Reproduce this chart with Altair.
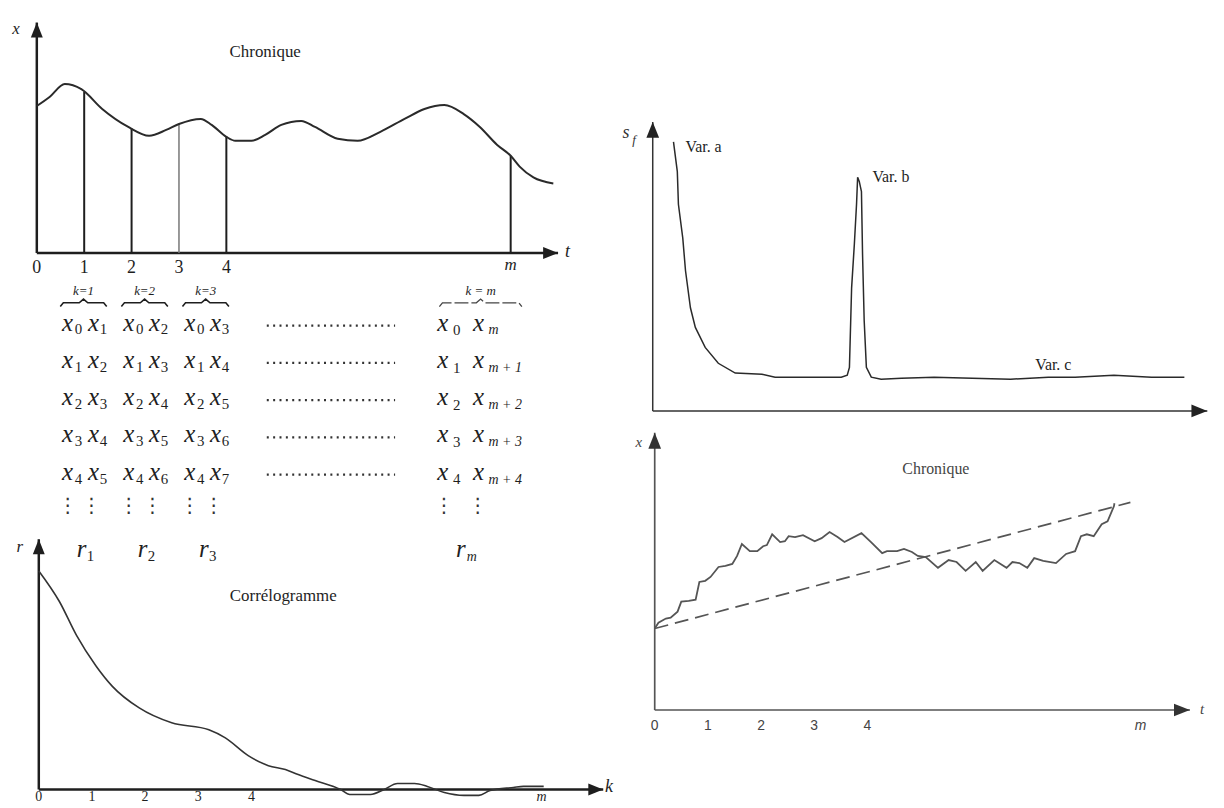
import altair as alt
import pandas as pd

# ---------------- DATA ----------------
# Panel A : "Chronique" (top left)
chron_t = [0, 0.27, 0.59, 0.94, 1.38, 1.93, 2.37, 2.73, 3.0, 3.46, 3.69, 4.0, 4.19, 4.53, 4.82, 5.16,
           5.58, 5.87, 6.35, 6.77, 7.25, 7.76, 8.18, 8.60, 9.01, 9.35, 9.71, 10.0, 10.19, 10.48, 10.90]
chron_x = [6.38, 6.77, 7.33, 7.11, 6.25, 5.47, 5.09, 5.34, 5.60, 5.82, 5.56, 5.04, 4.87, 4.87, 5.13, 5.56,
           5.73, 5.47, 4.96, 4.87, 5.26, 5.82, 6.25, 6.42, 6.03, 5.47, 4.70, 4.22, 3.75, 3.28, 3.02]
lag_t = [1, 2, 4, 10]
lag_x = [7.0, 5.41, 5.04, 4.22]
lag_light_t = [3]
lag_light_x = [5.60]
chron_tick_t = [0, 1, 2, 3, 4]
chron_tick_lab = ["0", "1", "2", "3", "4"]
chron_m_t = 10

# Table of pairs
table_k = ["1", "2", "3", "m"]
table_rows = [0, 1, 2, 3, 4]
brace_lab = ["k=1", "k=2", "k=3", "k = m"]
r_sub = ["1", "2", "3", "m"]

# Panel C : "Corrélogramme"
corr_k = [0, 0.39, 0.71, 1.08, 1.38, 1.89, 2.50, 3.20, 3.51, 3.94, 4.32, 4.64, 4.88, 5.20, 5.68, 5.85,
          6.24, 6.50, 6.75, 7.07, 7.31, 7.63, 8.0, 8.28, 8.49, 8.93, 9.12, 9.50]
corr_r = [1.0, 0.859, 0.705, 0.564, 0.473, 0.373, 0.305, 0.273, 0.236, 0.155, 0.109, 0.091, 0.068, 0.041,
          0.0, -0.023, -0.023, 0.0, 0.027, 0.027, 0.014, -0.014, -0.027, -0.027, -0.005, 0.009, 0.014, 0.014]
corr_tick_k = [0, 1, 2, 3, 4]
corr_tick_lab = ["0", "1", "2", "3", "4"]
corr_m_k = 9.46

# Panel D : spectrum s_f
sf_f = [3.8, 4.5, 4.7, 5.5, 6.0, 6.9, 7.8, 9.6, 12.0, 15.1, 20.0, 22.4, 27.3, 30.9, 34.5, 35.6, 36.0,
        36.4, 36.9, 37.3, 37.5, 37.8, 38.2, 38.4, 38.7, 39.1, 40.0, 41.8, 45.5, 51.5, 65.5, 72.4, 77.3,
        84.4, 91.3, 94.9, 97.3]
sf_s = [93.1, 82.8, 71.5, 59.8, 48.5, 35.7, 28.9, 22.0, 16.5, 13.1, 12.7, 11.7, 11.7, 11.7, 11.7, 12.4,
        15.1, 42.6, 57.7, 71.5, 80.8, 79.4, 75.9, 54.3, 31.3, 15.1, 11.7, 11.0, 11.3, 11.7, 11.0, 11.7,
        11.7, 12.4, 11.7, 11.7, 11.7]
sf_labels = ["Var. a", "Var. b", "Var. c"]
sf_label_f = [6.0, 40.2, 70.0]
sf_label_s = [91.4, 80.8, 15.8]

# Panel E : "Chronique" with trend (bottom right)
ch2_t = [0, 0.07, 0.21, 0.30, 0.43, 0.50, 0.64, 0.77, 0.84, 0.95, 1.05, 1.20, 1.33, 1.46, 1.55, 1.64,
         1.79, 1.93, 2.04, 2.11, 2.21, 2.36, 2.45, 2.52, 2.64, 2.79, 3.01, 3.14, 3.29, 3.44, 3.57, 3.89,
         4.07, 4.28, 4.37, 4.56, 4.69, 4.84, 4.95, 5.10, 5.33, 5.53, 5.68, 5.85, 6.04, 6.17, 6.39, 6.62,
         6.73, 6.86, 7.01, 7.14, 7.31, 7.55, 7.74, 7.91, 8.02, 8.13, 8.26, 8.41, 8.52, 8.64, 8.65]
ch2_x = [2.94, 3.15, 3.30, 3.33, 3.55, 3.91, 3.94, 3.98, 4.62, 4.66, 4.80, 5.16, 5.20, 5.27, 5.56, 5.99,
         5.73, 5.73, 5.91, 5.95, 6.34, 6.06, 6.09, 6.27, 6.24, 6.31, 6.09, 6.20, 6.42, 6.24, 6.06, 6.38,
         6.06, 5.66, 5.73, 5.73, 5.81, 5.70, 5.56, 5.52, 5.13, 5.41, 5.34, 5.02, 5.34, 5.02, 5.41, 5.13,
         5.34, 5.30, 5.13, 5.48, 5.38, 5.30, 5.63, 5.73, 6.27, 6.34, 6.27, 6.70, 6.81, 7.35, 7.46]
trend_t = [0, 8.95]
trend_x = [2.94, 7.49]
ch2_tick_t = [0, 1, 2, 3, 4]
ch2_tick_lab = ["0", "1", "2", "3", "4"]
ch2_m_t = 9.14

# ---------------- LAYOUT ----------------
OFF = 8
SERIF = "Liberation Serif"
SANS = "Liberation Sans"
DARK = "#1e1e1e"
GREY = "#555555"


def _sc(dom, a, b):
    return alt.Scale(domain=dom, range=[a - OFF, b - OFF], nice=False, zero=False)


PANEL = {
    "A": (_sc([0, 10], 37, 514), _sc([0, 10], 252, 20)),
    "B": (_sc([0, 10], 22.5, 637.5), _sc([0, 4], 322, 472)),
    "C": (_sc([0, 10], 39, 574), _sc([0, 1], 792, 572)),
    "D": (_sc([0, 100], 657, 1207), _sc([0, 100], 411, 120)),
    "E": (_sc([0, 10], 659, 1194), _sc([0, 10], 712, 433)),
}


def enc(p, x2=False, y2=False, **extra):
    sx, sy = PANEL[p]
    e = {"x": alt.X("x:Q", scale=sx, axis=None), "y": alt.Y("y:Q", scale=sy, axis=None)}
    if x2:
        e["x2"] = alt.X2("x2:Q")
    if y2:
        e["y2"] = alt.Y2("y2:Q")
    e.update(extra)
    return e


def line(p, xs, ys, **mk):
    df = pd.DataFrame({"x": xs, "y": ys, "i": list(range(len(xs)))})
    return alt.Chart(df).mark_line(**mk).encode(**enc(p, order="i:Q"))


def text(p, xs, ys, labels, **mk):
    df = pd.DataFrame({"x": xs, "y": ys, "s": labels})
    mk.setdefault("baseline", "middle")
    return alt.Chart(df).mark_text(**mk).encode(**enc(p, text="s:N"))


def rules(p, x, y, x2, y2, **mk):
    df = pd.DataFrame({"x": x, "y": y, "x2": x2, "y2": y2})
    return alt.Chart(df).mark_rule(**mk).encode(**enc(p, x2=True, y2=True))


UP = "M0,0L0.8,2L-0.8,2Z"
RIGHT = "M0,0L-2,-0.8L-2,0.8Z"


def arrow(p, x, y, shape, size, color):
    df = pd.DataFrame({"x": [x], "y": [y]})
    return alt.Chart(df).mark_point(shape=shape, size=size, filled=True, color=color,
                                    opacity=1, strokeWidth=0).encode(**enc(p))


layers = []

# ---- Panel A ----
layers += [
    rules("A", [0, 0], [0, 0], [0, 11.0], [10, 0], color=DARK, strokeWidth=2.5),
    arrow("A", 0, 10, UP, 225, DARK),
    arrow("A", 11.0, 0, RIGHT, 225, DARK),
    rules("A", lag_t, [0] * len(lag_t), lag_t, lag_x, color=DARK, strokeWidth=2),
    rules("A", lag_light_t, [0], lag_light_t, lag_light_x, color="#777777", strokeWidth=1.5),
    line("A", chron_t, chron_x, color="#2a2a2a", strokeWidth=2, interpolate="monotone"),
    text("A", chron_tick_t, [-0.65] * 5, chron_tick_lab, font=SERIF, fontSize=18, color=DARK),
    text("A", [chron_m_t], [-0.5], ["m"], font=SERIF, fontSize=17, fontStyle="italic", color=DARK),
    text("A", [-0.44], [9.7], ["x"], font=SERIF, fontSize=17, fontStyle="italic", color=DARK),
    text("A", [11.2], [0.05], ["t"], font=SERIF, fontSize=18, fontStyle="italic", color=DARK),
    text("A", [4.82], [8.7], ["Chronique"], font=SERIF, fontSize=17, color=DARK),
]

# ---- Table (panel B) ----
K_POS = {"1": 1, "2": 2, "3": 3, "m": 7.5}
std = [k for k in table_k if k != "m"]
subs_a_std, subs_b_std = [], []
for k in std:
    for i in table_rows:
        subs_a_std.append((K_POS[k], i, str(i)))
        subs_b_std.append((K_POS[k], i, str(i + int(k))))
subs_a_m = [(K_POS["m"], i, str(i)) for i in table_rows]
subs_b_m = [(K_POS["m"], i, "m" if i == 0 else f"m + {i}") for i in table_rows]


def tbl_text(items, **mk):
    return text("B", [a[0] for a in items], [a[1] for a in items], [a[2] for a in items], **mk)


xa = [(a[0], a[1], "x") for a in subs_a_std]
xm = [(a[0], a[1], "x") for a in subs_a_m]
LET = dict(font=SERIF, fontSize=25, fontStyle="italic", color=DARK)
SUB = dict(font=SERIF, fontSize=15, color=DARK)
layers += [
    tbl_text(xa, dx=-16, **LET),
    tbl_text(xa, dx=10, **LET),
    tbl_text(subs_a_std, dx=-5, dy=7, **SUB),
    tbl_text(subs_b_std, dx=20, dy=7, **SUB),
    tbl_text(xm, dx=-38, **LET),
    tbl_text(xm, dx=-2, **LET),
    tbl_text(subs_a_m, dx=-24, dy=8, **SUB),
    tbl_text(subs_b_m, dx=8, dy=8, align="left", fontStyle="italic", font=SERIF, fontSize=14, color=DARK),
]
# dotted rows
layers.append(rules("B", [4.0] * 5, [r + 0.08 for r in table_rows], [6.1] * 5, [r + 0.08 for r in table_rows],
                    color="#333333", strokeWidth=2.2, strokeDash=[2, 4.4]))
# vertical ellipses
ell_std = [(K_POS[k], 4.93, "⋮") for k in std]
ell_m = [(K_POS["m"], 4.93, "⋮")]
ELL = dict(font="DejaVu Sans", fontSize=20, color="#333333")
layers += [
    tbl_text(ell_std, dx=-16, **ELL), tbl_text(ell_std, dx=8, **ELL),
    tbl_text(ell_m, dx=-37, **ELL), tbl_text(ell_m, dx=-3, **ELL),
]
# r labels
r_std = [(K_POS[k], 6.08, "r") for k in std]
r_std_sub = [(K_POS[k], 6.08, s) for k, s in zip(std, r_sub[:3])]
layers += [
    tbl_text(r_std, dx=-2, **LET),
    tbl_text(r_std_sub, dx=7, dy=7, **SUB),
    tbl_text([(K_POS["m"], 6.08, "r")], dx=-20, **LET),
    tbl_text([(K_POS["m"], 6.08, r_sub[3])], dx=-9, dy=8, font=SERIF, fontSize=14, fontStyle="italic", color=DARK),
]
# braces
brace_rows = []
base = -0.53
for gi, k in enumerate(table_k):
    c = K_POS[k]
    w = 0.675 if k == "m" else 0.38
    xs = [c - w, c - w + 0.05, c - 0.07, c, c + 0.07, c + w - 0.05, c + w]
    ys = [base + 0.1, base, base, base - 0.1, base, base, base + 0.1]
    for j, (a, b) in enumerate(zip(xs, ys)):
        brace_rows.append({"x": a, "y": b, "g": k, "i": j})
bdf = pd.DataFrame(brace_rows)
layers.append(alt.Chart(bdf[bdf.g != "m"]).mark_line(color=DARK, strokeWidth=1.6)
              .encode(**enc("B", detail="g:N", order="i:Q")))
layers.append(alt.Chart(bdf[bdf.g == "m"]).mark_line(color="#444444", strokeWidth=1.3, strokeDash=[14, 3])
              .encode(**enc("B", detail="g:N", order="i:Q")))
layers.append(text("B", [K_POS[k] for k in table_k], [-0.86] * 4, brace_lab,
                   font=SERIF, fontSize=13, fontStyle="italic", color=DARK))

# ---- Panel C ----
layers += [
    rules("C", [0, 0], [0, 0], [0, 10.62], [1.145, 0], color=DARK, strokeWidth=2.5),
    arrow("C", 0, 1.145, UP, 225, DARK),
    arrow("C", 10.62, 0, RIGHT, 225, DARK),
    line("C", corr_k, corr_r, color="#333333", strokeWidth=1.6, interpolate="monotone"),
    text("C", corr_tick_k, [-0.005] * 5, corr_tick_lab, font=SERIF, fontSize=14, baseline="top", color=DARK),
    text("C", [corr_m_k], [-0.005], ["m"], font=SERIF, fontSize=14, fontStyle="italic", baseline="top", color=DARK),
    text("C", [-0.36], [1.11], ["r"], font=SERIF, fontSize=17, fontStyle="italic", color=DARK),
    text("C", [10.73], [0.01], ["k"], font=SERIF, fontSize=18, fontStyle="italic", color=DARK),
    text("C", [4.6], [0.886], ["Corrélogramme"], font=SERIF, fontSize=17, color=DARK),
]

# ---- Panel D ----
layers += [
    rules("D", [0, 0], [0, 0], [0, 101.5], [100, 0], color="#333333", strokeWidth=1.5),
    arrow("D", 0, 100, UP, 256, "#222222"),
    arrow("D", 101.5, 0, RIGHT, 256, "#222222"),
    line("D", sf_f, sf_s, color="#2a2a2a", strokeWidth=1.5),
    text("D", sf_label_f, sf_label_s, sf_labels, font=SERIF, fontSize=16, align="left", color=DARK),
    text("D", [-4.9], [96.0], ["s"], font=SERIF, fontSize=18, fontStyle="italic", color="#333333"),
    text("D", [-3.4], [93.6], ["f"], font=SERIF, fontSize=13, fontStyle="italic", color="#333333"),
]

# ---- Panel E ----
layers += [
    rules("E", [0, 0], [0, 0], [0, 10.07], [10, 0], color=GREY, strokeWidth=1.7),
    arrow("E", 0, 10, UP, 256, "#333333"),
    arrow("E", 10.07, 0, RIGHT, 256, "#333333"),
    line("E", trend_t, trend_x, color=GREY, strokeWidth=1.7, strokeDash=[14, 7]),
    line("E", ch2_t, ch2_x, color=GREY, strokeWidth=1.8),
    text("E", ch2_tick_t, [-0.57] * 5, ch2_tick_lab, font=SANS, fontSize=14, color="#444444"),
    text("E", [ch2_m_t], [-0.57], ["m"], font=SANS, fontSize=14, fontStyle="italic", color="#444444"),
    text("E", [-0.3], [9.68], ["x"], font=SERIF, fontSize=15, fontStyle="italic", color="#444444"),
    text("E", [10.3], [0.03], ["t"], font=SERIF, fontSize=15, fontStyle="italic", color="#444444"),
    text("E", [5.29], [8.71], ["Chronique"], font=SERIF, fontSize=16, color="#444444"),
]

chart = (
    alt.layer(*layers)
    .resolve_scale(x="independent", y="independent")
    .properties(width=1216, height=800, autosize=alt.AutoSizeParams(type="none"), padding=0)
    .configure_view(stroke=None)
)

chart.save("out.html", embed_options={"renderer": "svg", "actions": False})
